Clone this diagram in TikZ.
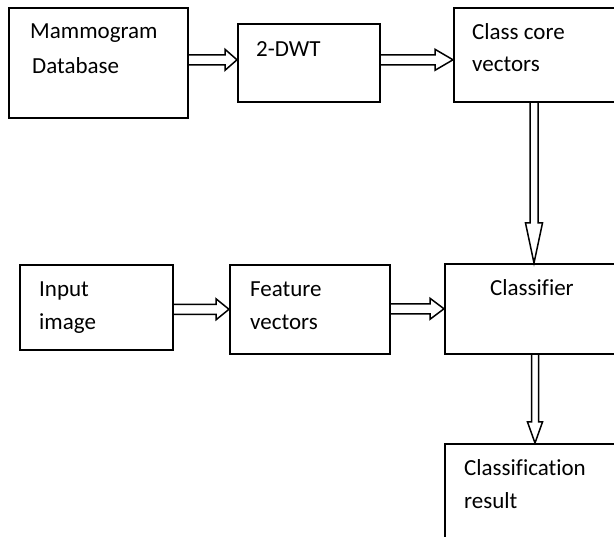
\documentclass[tikz,border=0pt]{standalone}
\usepackage{fontspec}
\setmainfont{Carlito}[Ligatures=CommonOff]
\usetikzlibrary{calc}
\tikzset{
  box/.style={draw, line width=1.6pt, rectangle, inner sep=0pt, anchor=north west},
  lbl/.style={inner sep=0pt, anchor=base west, font=\fontsize{23pt}{28pt}\selectfont},
  conn/.style={line width=1.5pt, line join=miter}
}
% horizontal hollow arrow: from, to, y offset, head length
\newcommand{\harr}[4]{\draw[conn] let \p1=(#1.east), \p2=(#2.west) in
  (\x1,\y2+#3+5pt) -- (\x2-#4,\y2+#3+5pt) -- (\x2-#4,\y2+#3+10.5pt) -- (\x2,\y2+#3)
  -- (\x2-#4,\y2+#3-10.5pt) -- (\x2-#4,\y2+#3-5pt) -- (\x1,\y2+#3-5pt);}
% vertical hollow arrow: from, to, x, head length, head half, shaft half
\newcommand{\varr}[6]{\draw[conn] let \p1=(#1.south), \p2=(#2.north) in
  (#3-#6,\y1) -- (#3-#6,\y2+#4) -- (#3-#5,\y2+#4) -- (#3,\y2)
  -- (#3+#5,\y2+#4) -- (#3+#6,\y2+#4) -- (#3+#6,\y1);}
\begin{document}
\begin{tikzpicture}[x=1pt,y=-1pt]
\useasboundingbox (0,0) rectangle (614,545);
\fill[white] (0,0) rectangle (614,545);
\clip (0,0) rectangle (614,537);
% boxes
\node[box, minimum width=179pt, minimum height=110pt] (mam) at (8,7) {};
\node[box, minimum width=142pt, minimum height=78pt] (dwt) at (237,23) {};
\node[box, minimum width=200pt, minimum height=94pt] (ccv) at (453,7) {};
\node[box, minimum width=153pt, minimum height=85pt] (inp) at (19,264) {};
\node[box, minimum width=160pt, minimum height=89pt] (fea) at (229,264) {};
\node[box, minimum width=200pt, minimum height=90pt] (cls) at (444,263) {};
\node[box, minimum width=200pt, minimum height=150pt] (res) at (444,443) {};
% texts
\node[lbl] (mamA) at (30,39) {Mammogram};
\node[lbl] (mamB) at (32,74) {Database};
\node[lbl] (dwtA) at (256,57) {2-DWT};
\node[lbl] (ccvA) at (472,40) {Class core};
\node[lbl] (ccvB) at (472,72) {vectors};
\node[lbl] (inpA) at (39,297) {Input};
\node[lbl] (inpB) at (39,330) {image};
\node[lbl] (feaA) at (250,297) {Feature};
\node[lbl] (feaB) at (250,330) {vectors};
\node[lbl] (clsA) at (490,296) {Classifier};
\node[lbl] (resA) at (464,476) {Classification};
\node[lbl] (resB) at (464,509) {result};
% connectors
\harr{mam}{dwt}{3pt}{12pt}
\harr{dwt}{ccv}{-5pt}{18pt}
\harr{inp}{fea}{0pt}{13pt}
\harr{fea}{cls}{0pt}{14pt}
\varr{ccv}{cls}{534pt}{40pt}{8.5pt}{4pt}
\varr{cls}{res}{535pt}{21pt}{7.5pt}{3.5pt}
\end{tikzpicture}
\end{document}
